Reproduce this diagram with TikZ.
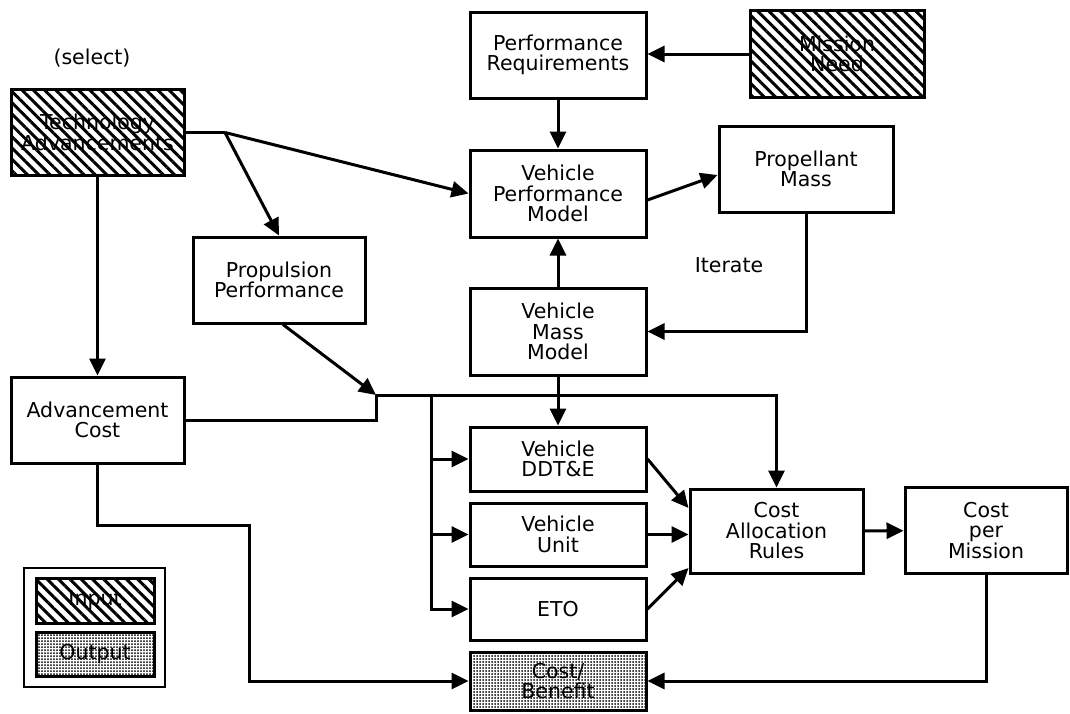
\documentclass[tikz,border=0pt]{standalone}
\usepackage{fontspec}
\setmainfont{DejaVu Sans}
\usetikzlibrary{arrows.meta,positioning,patterns.meta,calc}

\begin{document}
\begin{tikzpicture}[x=1pt, y=-1pt, node distance=9pt,
    every node/.style={font=\fontsize{20.5}{20.5}\selectfont, align=center, inner sep=2pt},
    box/.style={draw, line width=3pt, minimum width=176pt, minimum height=86pt},
    inbox/.style={box, pattern={Lines[angle=-45, distance=8pt, line width=3pt]}},
    outbox/.style={box, pattern={Dots[distance=3pt, radius=1pt]}},
    link/.style={-{Triangle[length=17pt, width=16pt]}, line width=3pt},
    wire/.style={line width=3pt}]
\useasboundingbox (0,0) rectangle (1070,713);
% Inputs
\node (select) at (92,58) {(select)};
\node[inbox, minimum width=173pt] (tech) at (97.5,132.5) {Technology\\Advancements};
\node[inbox, minimum width=174pt, minimum height=87pt] (need) at (837,54) {Mission\\Need};
% Performance loop
\node[box] (req) at (558,55) {Performance\\Requirements};
\node[box, minimum height=87pt] (vperf) at (558,193.5) {Vehicle\\Performance\\Model};
\node[box, minimum width=174pt] (prop) at (806,169) {Propellant\\Mass};
\node[box, minimum height=87pt] (vmass) at (558,331.5) {Vehicle\\Mass\\Model};
\node (iter) at (729,265) {Iterate};
% Left column
\node[box, minimum width=172pt] (propperf) at (279,280) {Propulsion\\Performance};
\node[box, minimum width=173pt] (advcost) at (97.5,420) {Advancement\\Cost};
% Cost elements
\node[box, minimum height=64pt] (ddte) at (558,459) {Vehicle\\DDT\&E};
\node[box, minimum height=63pt, below=of ddte] (unit) {Vehicle\\Unit};
\node[box, minimum height=62pt, below=of unit] (eto) {ETO};
\node[outbox, minimum height=58pt, below=of eto] (costben) {Cost/\\Benefit};
\node[box, minimum width=173pt, minimum height=84pt] (alloc) at (776.5,531) {Cost\\Allocation\\Rules};
\node[box, minimum width=162pt] (permission) at (986,530.5) {Cost\\per\\Mission};
% Legend
\node[draw, line width=2pt, minimum width=141pt, minimum height=119pt] (legend) at (94.5,627.5) {};
\node[inbox, minimum width=118pt, minimum height=45pt] (inkey) at (95,600.5) {Input};
\node[outbox, minimum width=118pt, minimum height=44pt] (outkey) at (95,654) {Output};
% Junctions
\coordinate (fork) at (225,132.5);
\coordinate (jog) at (376,395);
\coordinate (tap) at (431,395);
\coordinate (detour) at (249,525);
% Arrows
\draw[wire] (tech.east) -- (fork);
\draw[link] (fork) -- (vperf.west);
\draw[link] (fork) -- (propperf.north);
\draw[link] (tech) -- (advcost);
\draw[link] (need.west) -- (need.west -| req.east);
\draw[link] (req) -- (vperf);
\draw[link] ($(vperf.east)+(0,6.5)$) -- ($(prop.west)+(0,6)$);
\draw[link] (prop.south) |- (vmass.east);
\draw[link] (vmass) -- (vperf);
\draw[link] (vmass) -- (ddte);
\draw[link] ($(propperf.south)+(4,0)$) -- (jog);
\draw[wire] (advcost.east) -| (jog);
\draw[link] (jog) -| (alloc.north);
\draw[link] (tap) |- (eto.west);
\draw[link] (tap |- ddte.west) -- (ddte.west);
\draw[link] (tap |- unit.west) -- (unit.west);
\draw[link] (ddte.east) -- ($(alloc.west)+(0,-23)$);
\draw[link] (unit.east) -- (unit.east -| alloc.west);
\draw[link] (eto.east) -- ($(alloc.west)+(0,37)$);
\draw[link] (alloc) -- (permission);
\draw[link] (permission.south) |- (costben.east);
\draw[link] (advcost.south) |- (detour) |- (costben.west);
\end{tikzpicture}
\end{document}
